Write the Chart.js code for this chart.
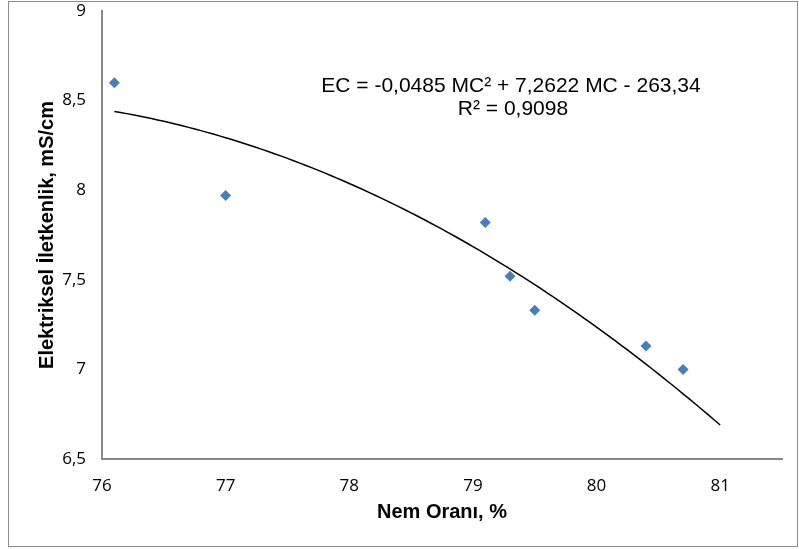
<!DOCTYPE html>
<html>
<head>
<meta charset="utf-8">
<script src="https://cdn.jsdelivr.net/npm/chart.js@4.4.0/dist/chart.umd.min.js"></script>
<style>
  html, body { margin: 0; padding: 0; background: #fff; }
  #wrap { width: 799px; height: 549px; }
</style>
</head>
<body>
<div id="wrap"><canvas id="ecChart" width="799" height="549"></canvas></div>
<script>
// measured values (moisture %, conductivity mS/cm)
const moisture = [76.1, 77.0, 79.1, 79.3, 79.5, 80.4, 80.7];
const conductivity = [8.60, 7.97, 7.82, 7.52, 7.33, 7.13, 7.00];
const xTicks = [76, 77, 78, 79, 80, 81];
const yTicks = [6.5, 7, 7.5, 8, 8.5, 9];

// polynomial trendline as printed on the chart: a*x^2 + b*x + c
const trendCoef = [-0.0485, 7.2622, -263.34];
const trendRange = [76.1, 81];
const equationLines = ['EC = -0,0485 MC² + 7,2622 MC - 263,34', 'R² = 0,9098'];

const points = moisture.map((x, i) => ({ x: x, y: conductivity[i] }));

// sample the printed regression curve so it draws smooth
const trendPoints = [];
for (let x = trendRange[0]; x <= trendRange[1] + 1e-9; x += 0.05) {
  trendPoints.push({ x: x, y: trendCoef[0] * x * x + trendCoef[1] * x + trendCoef[2] });
}

const tickFont = { family: "'Liberation Sans Narrow', 'Open Sans', sans-serif", size: 17 };
const titleFont = { family: "'Liberation Sans', Arial, sans-serif", size: 20, weight: 'bold' };
const axisGray = '#898989';

const comma = v => String(v).replace('.', ',');

// thin frame around the whole chart
const framePlugin = {
  id: 'frame',
  beforeDraw(chart) {
    const c = chart.ctx;
    c.save();
    c.strokeStyle = '#8c8c8c';
    c.lineWidth = 1;
    c.strokeRect(8.5, 1.5, 789, 545);
    c.restore();
  }
};

// trendline equation text
const equationPlugin = {
  id: 'equation',
  afterDraw(chart) {
    const c = chart.ctx;
    c.save();
    c.fillStyle = '#000';
    c.font = "21px 'Liberation Sans', Arial, sans-serif";
    c.textAlign = 'center';
    c.textBaseline = 'middle';
    c.fillText(equationLines[0], 511, 86);
    c.fillText(equationLines[1], 513, 109);
    c.restore();
  }
};

const ctx = document.getElementById('ecChart').getContext('2d');
const ecChart = new Chart(ctx, {
  type: 'scatter',
  data: {
    datasets: [{
      label: 'Ölçüm',
      data: points,
      pointStyle: 'rectRot',
      pointRadius: 5.5,
      backgroundColor: '#4a7ebb',
      borderColor: '#4a7ebb',
      borderWidth: 0,
      order: 0
    }, {
      label: 'Trend',
      type: 'line',
      data: trendPoints,
      borderColor: '#000',
      borderWidth: 1.5,
      pointRadius: 0,
      fill: false,
      tension: 0,
      order: 1
    }]
  },
  options: {
    responsive: false,
    animation: false,
    layout: { padding: { top: 11, right: 17, left: 0, bottom: 0 } },
    plugins: {
      legend: { display: false },
      tooltip: { enabled: false }
    },
    scales: {
      x: {
        type: 'linear',
        min: 76,
        max: 81.5,
        afterBuildTicks: s => { s.ticks = xTicks.map(v => ({ value: v })); },
        afterFit: s => { s.height = 90; s.paddingLeft = 0; s.paddingRight = 0; },
        grid: { display: false, drawTicks: false },
        border: { display: true, color: axisGray, width: 2 },
        ticks: { font: tickFont, color: '#000', padding: 17, maxRotation: 0, callback: v => comma(v) },
        title: { display: true, text: 'Nem Oranı, %', font: titleFont, color: '#000', padding: { bottom: 25 } }
      },
      y: {
        type: 'linear',
        min: 6.5,
        max: 9,
        afterBuildTicks: s => { s.ticks = yTicks.map(v => ({ value: v })); },
        afterFit: s => { s.width = 102; s.paddingTop = 0; s.paddingBottom = 0; },
        grid: { display: false, drawTicks: false },
        border: { display: true, color: axisGray, width: 2 },
        ticks: { font: tickFont, color: '#000', padding: 16, callback: v => comma(v) },
        title: { display: true, text: 'Elektriksel İletkenlik, mS/cm', font: titleFont, color: '#000', padding: { top: 35 } }
      }
    }
  },
  plugins: [framePlugin, equationPlugin]
});
</script>
</body>
</html>
